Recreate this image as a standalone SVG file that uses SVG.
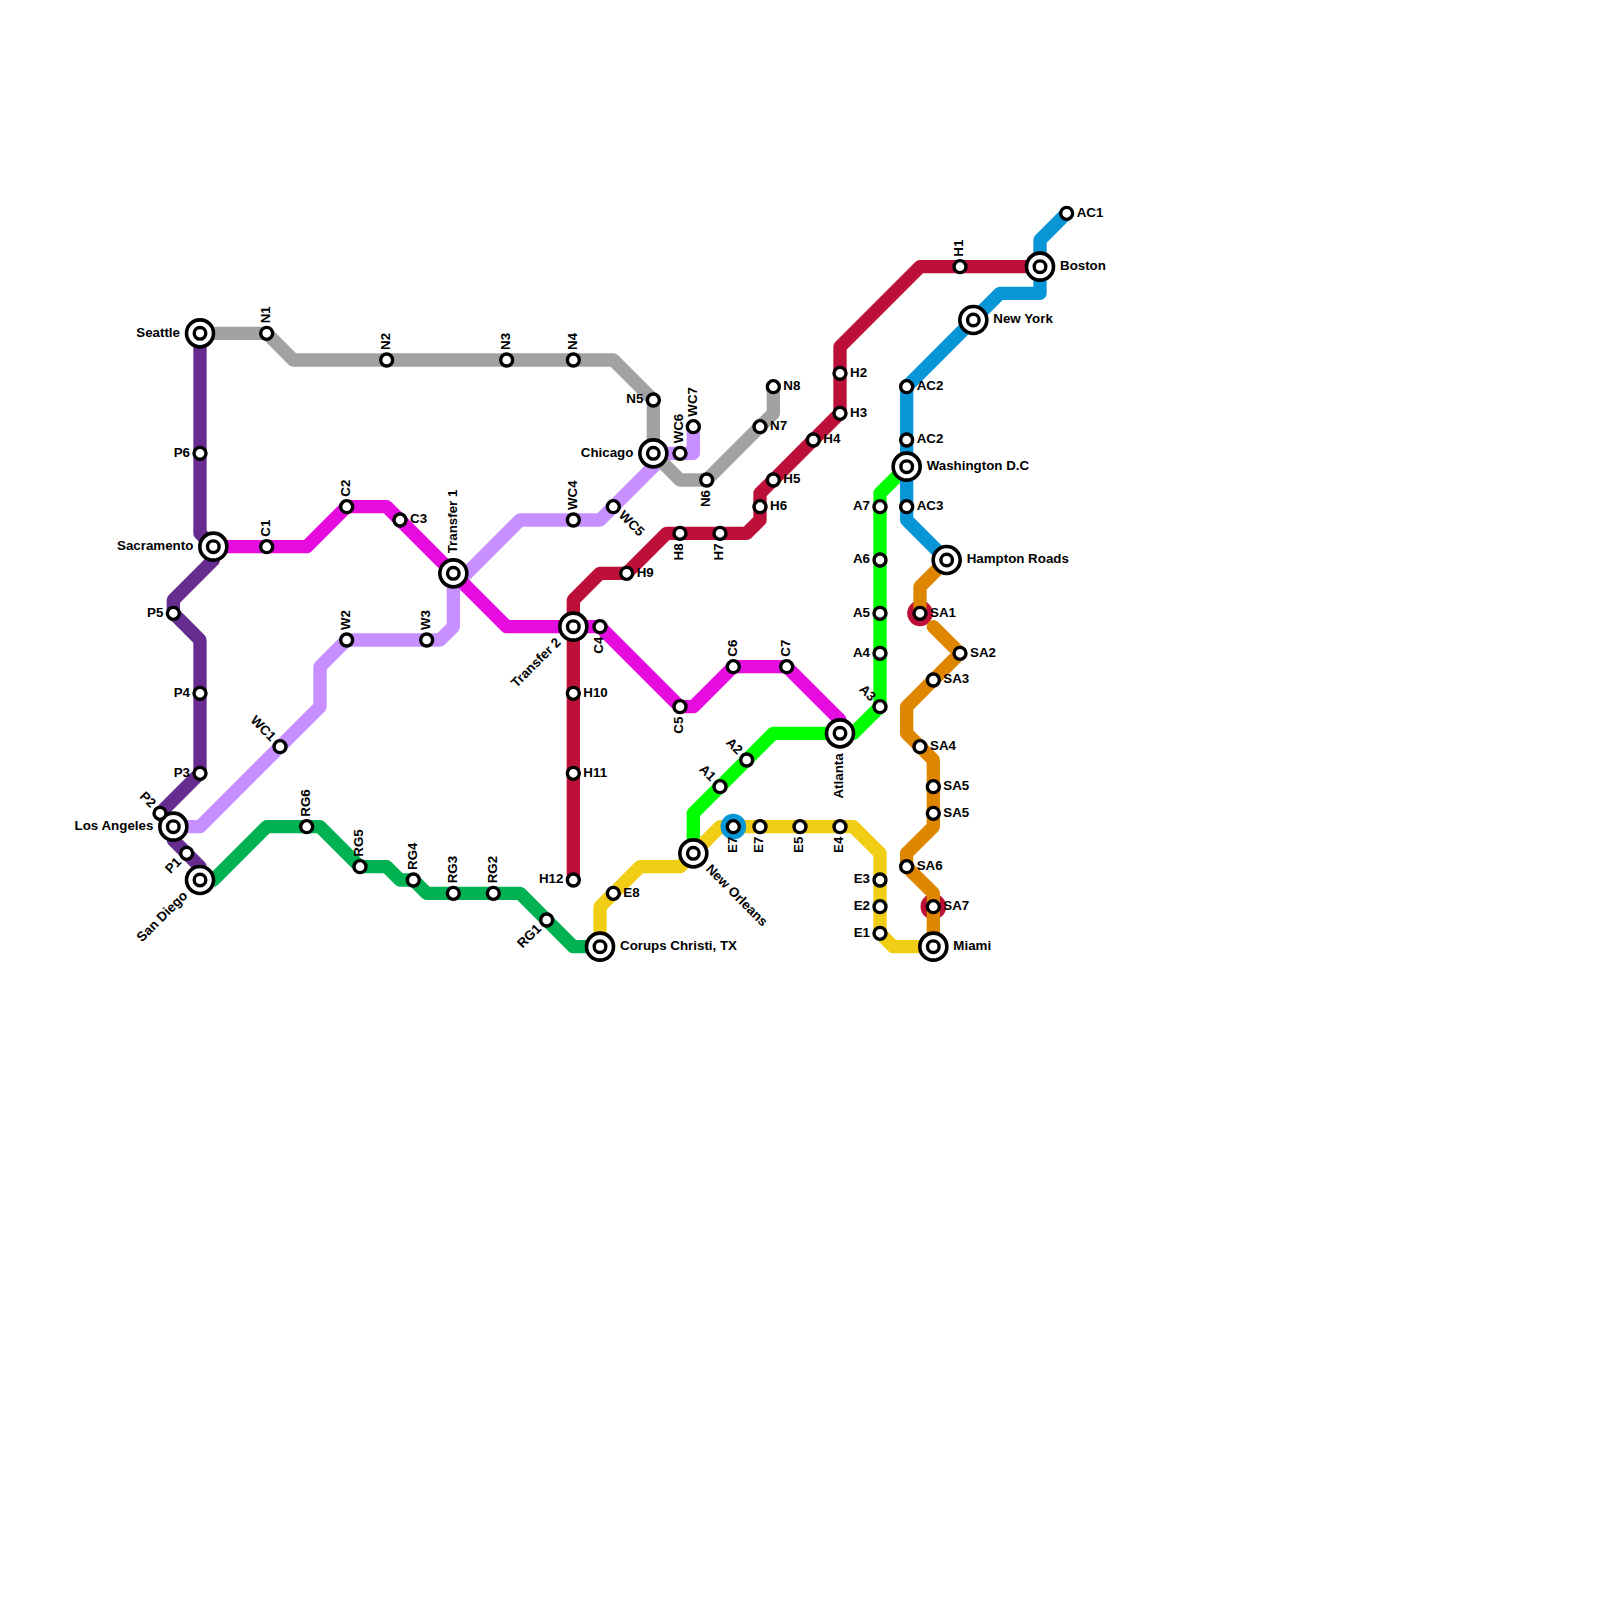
<svg xmlns="http://www.w3.org/2000/svg" width="1600" height="1600" viewBox="0 0 1600 1600">
<style>
.bg{fill:#fff}
#connectors polyline{fill:none;stroke-width:1;stroke-linejoin:round;stroke-linecap:round}
.gray{stroke:#a2a2a2}.purple{stroke:#662c90}.mag{stroke:#e60bde}.lp{stroke:#c78fff}.red{stroke:#bd1038}.green{stroke:#00b251}.lime{stroke:#0f0}.yel{stroke:#f0ce15}.blue{stroke:#0896d7}.org{stroke:#df8600}
.s,.a,.b{fill:#fff;stroke:#000}
.s{stroke-width:3.4}.a{stroke-width:3.6}.b{stroke-width:3.4}
text{font-family:"Liberation Sans",Arial,sans-serif;font-size:13.33px;font-weight:bold;fill:#000}
.e{text-anchor:end}
</style>
<rect class="bg" width="1600" height="1600"/>
<g id="connectors" transform="scale(13.33333)">
<polyline class="lp" points="13,62 15,62 24,53 24,50 26,48 33,48 34,47 34,44 39,39 45,39 50,34 52,34 52,32"/>
<polyline class="gray" points="15,25 20,25 22,27 46,27 49,30 49,34 51,36 53,36 58,31 58,29"/>
<polyline class="purple" points="15,25 15,40 16,41 16,42 13,45 13,46 15,48 15,58 12,61 13,62 13,63 15,65 15,66"/>
<polyline class="mag" points="16,41 23,41 26,38 29,38 38,47 45,47 51,53 52,53 55,50 59,50 63,54 63,55"/>
<circle cx="69" cy="46" r="0.96" fill="#bd1038"/>
<circle cx="70" cy="68" r="0.96" fill="#bd1038"/>
<polyline class="red" points="78,20 69,20 63,26 63,31 57,37 57,39 56,40 50,40 47,43 45,43 43,45 43,66"/>
<polyline class="green" points="15,66 16,66 20,62 24,62 27,65 29,65 30,66 31,66 32,67 39,67 43,71 45,71"/>
<polyline class="lime" points="52,64 52,61 58,55 64,55 66,53 66,37 68,35"/>
<polyline class="yel" points="45,71 45,68 48,65 51,65 54,62 64,62 66,64 66,70 67,71 70,71"/>
<circle cx="55" cy="62" r="0.96" fill="#0896d7"/>
<polyline class="blue" points="80,16 78,18 78,22 75,22 68,29 68,39 71,42"/>
<polyline class="org" points="71,42 69,44 69,46"/>
<polyline class="org" points="70,47 72,49 68,53 68,55 70,57 70,62 68,64 68,65 70,67 70,71"/>
</g>
<g id="stations">
<g id="seattle" transform="translate(200,333.33)"><circle class="a" r="13.5"/><circle class="b" r="5.8"/><text class="e" x="-20" y="3.3">Seattle</text></g>
<g id="sacramento" transform="translate(213.33,546.67)"><circle class="a" r="13.5"/><circle class="b" r="5.8"/><text class="e" x="-20" y="3.3">Sacramento</text></g>
<g id="los-angeles" transform="translate(173.33,826.67)"><circle class="a" r="13.5"/><circle class="b" r="5.8"/><text class="e" x="-20" y="3.3">Los Angeles</text></g>
<g id="san-diego" transform="translate(200,880)"><circle class="a" r="13.5"/><circle class="b" r="5.8"/><text class="e" transform="rotate(-45)" x="-20" y="3.3">San Diego</text></g>
<g id="transfer-1" transform="translate(453.33,573.33)"><circle class="a" r="13.5"/><circle class="b" r="5.8"/><text transform="rotate(-90)" x="20" y="3.3">Transfer 1</text></g>
<g id="transfer-2" transform="translate(573.33,626.67)"><circle class="a" r="13.5"/><circle class="b" r="5.8"/><text class="e" transform="rotate(-45)" x="-20" y="3.3">Transfer 2</text></g>
<g id="chicago" transform="translate(653.33,453.33)"><circle class="a" r="13.5"/><circle class="b" r="5.8"/><text class="e" x="-20" y="3.3">Chicago</text></g>
<g id="new-orleans" transform="translate(693.33,853.33)"><circle class="a" r="13.5"/><circle class="b" r="5.8"/><text transform="rotate(45)" x="20" y="3.3">New Orleans</text></g>
<g id="atlanta" transform="translate(840,733.33)"><circle class="a" r="13.5"/><circle class="b" r="5.8"/><text class="e" transform="rotate(-90)" x="-20" y="3.3">Atlanta</text></g>
<g id="corpus-christi" transform="translate(600,946.67)"><circle class="a" r="13.5"/><circle class="b" r="5.8"/><text x="20" y="3.3">Corups Christi, TX</text></g>
<g id="miami" transform="translate(933.33,946.67)"><circle class="a" r="13.5"/><circle class="b" r="5.8"/><text x="20" y="3.3">Miami</text></g>
<g id="hampton-roads" transform="translate(946.67,560)"><circle class="a" r="13.5"/><circle class="b" r="5.8"/><text x="20" y="3.3">Hampton Roads</text></g>
<g id="washington" transform="translate(906.67,466.67)"><circle class="a" r="13.5"/><circle class="b" r="5.8"/><text x="20" y="3.3">Washington D.C</text></g>
<g id="new-york" transform="translate(973.33,320)"><circle class="a" r="13.5"/><circle class="b" r="5.8"/><text x="20" y="3.3">New York</text></g>
<g id="boston" transform="translate(1040,266.67)"><circle class="a" r="13.5"/><circle class="b" r="5.8"/><text x="20" y="3.3">Boston</text></g>

<g id="n1" transform="translate(266.67,333.33)"><circle class="s" r="6"/><text transform="rotate(-90)" x="10" y="3.3">N1</text></g>
<g id="n2" transform="translate(386.67,360)"><circle class="s" r="6"/><text transform="rotate(-90)" x="10" y="3.3">N2</text></g>
<g id="n3" transform="translate(506.67,360)"><circle class="s" r="6"/><text transform="rotate(-90)" x="10" y="3.3">N3</text></g>
<g id="n4" transform="translate(573.33,360)"><circle class="s" r="6"/><text transform="rotate(-90)" x="10" y="3.3">N4</text></g>
<g id="n5" transform="translate(653.33,400)"><circle class="s" r="6"/><text class="e" x="-10" y="3.3">N5</text></g>
<g id="n6" transform="translate(706.67,480)"><circle class="s" r="6"/><text class="e" transform="rotate(-90)" x="-10" y="3.3">N6</text></g>
<g id="n7" transform="translate(760,426.67)"><circle class="s" r="6"/><text x="10" y="3.3">N7</text></g>
<g id="n8" transform="translate(773.33,386.67)"><circle class="s" r="6"/><text x="10" y="3.3">N8</text></g>

<g id="p1" transform="translate(186.67,853.33)"><circle class="s" r="6"/><text class="e" transform="rotate(-45)" x="-10" y="3.3">P1</text></g>
<g id="p2" transform="translate(160,813.33)"><circle class="s" r="6"/><text class="e" transform="rotate(45)" x="-10" y="3.3">P2</text></g>
<g id="p3" transform="translate(200,773.33)"><circle class="s" r="6"/><text class="e" x="-10" y="3.3">P3</text></g>
<g id="p4" transform="translate(200,693.33)"><circle class="s" r="6"/><text class="e" x="-10" y="3.3">P4</text></g>
<g id="p5" transform="translate(173.33,613.33)"><circle class="s" r="6"/><text class="e" x="-10" y="3.3">P5</text></g>
<g id="p6" transform="translate(200,453.33)"><circle class="s" r="6"/><text class="e" x="-10" y="3.3">P6</text></g>

<g id="c1" transform="translate(266.67,546.67)"><circle class="s" r="6"/><text transform="rotate(-90)" x="10" y="3.3">C1</text></g>
<g id="c2" transform="translate(346.67,506.67)"><circle class="s" r="6"/><text transform="rotate(-90)" x="10" y="3.3">C2</text></g>
<g id="c3" transform="translate(400,520)"><circle class="s" r="6"/><text x="10" y="3.3">C3</text></g>
<g id="c4" transform="translate(600,626.67)"><circle class="s" r="6"/><text class="e" transform="rotate(-90)" x="-10" y="3.3">C4</text></g>
<g id="c5" transform="translate(680,706.67)"><circle class="s" r="6"/><text class="e" transform="rotate(-90)" x="-10" y="3.3">C5</text></g>
<g id="c6" transform="translate(733.33,666.67)"><circle class="s" r="6"/><text transform="rotate(-90)" x="10" y="3.3">C6</text></g>
<g id="c7" transform="translate(786.67,666.67)"><circle class="s" r="6"/><text transform="rotate(-90)" x="10" y="3.3">C7</text></g>

<g id="wc1" transform="translate(280,746.67)"><circle class="s" r="6"/><text class="e" transform="rotate(45)" x="-10" y="3.3">WC1</text></g>
<g id="w2" transform="translate(346.67,640)"><circle class="s" r="6"/><text transform="rotate(-90)" x="10" y="3.3">W2</text></g>
<g id="w3" transform="translate(426.67,640)"><circle class="s" r="6"/><text transform="rotate(-90)" x="10" y="3.3">W3</text></g>
<g id="wc4" transform="translate(573.33,520)"><circle class="s" r="6"/><text transform="rotate(-90)" x="10" y="3.3">WC4</text></g>
<g id="wc5" transform="translate(613.33,506.67)"><circle class="s" r="6"/><text transform="rotate(45)" x="10" y="3.3">WC5</text></g>
<g id="wc6" transform="translate(680,453.33)"><circle class="s" r="6"/><text transform="rotate(-90)" x="10" y="3.3">WC6</text></g>
<g id="wc7" transform="translate(693.33,426.67)"><circle class="s" r="6"/><text transform="rotate(-90)" x="10" y="3.3">WC7</text></g>

<g id="h1" transform="translate(960,266.67)"><circle class="s" r="6"/><text transform="rotate(-90)" x="10" y="3.3">H1</text></g>
<g id="h2" transform="translate(840,373.33)"><circle class="s" r="6"/><text x="10" y="3.3">H2</text></g>
<g id="h3" transform="translate(840,413.33)"><circle class="s" r="6"/><text x="10" y="3.3">H3</text></g>
<g id="h4" transform="translate(813.33,440)"><circle class="s" r="6"/><text x="10" y="3.3">H4</text></g>
<g id="h5" transform="translate(773.33,480)"><circle class="s" r="6"/><text x="10" y="3.3">H5</text></g>
<g id="h6" transform="translate(760,506.67)"><circle class="s" r="6"/><text x="10" y="3.3">H6</text></g>
<g id="h7" transform="translate(720,533.33)"><circle class="s" r="6"/><text class="e" transform="rotate(-90)" x="-10" y="3.3">H7</text></g>
<g id="h8" transform="translate(680,533.33)"><circle class="s" r="6"/><text class="e" transform="rotate(-90)" x="-10" y="3.3">H8</text></g>
<g id="h9" transform="translate(626.67,573.33)"><circle class="s" r="6"/><text x="10" y="3.3">H9</text></g>
<g id="h10" transform="translate(573.33,693.33)"><circle class="s" r="6"/><text x="10" y="3.3">H10</text></g>
<g id="h11" transform="translate(573.33,773.33)"><circle class="s" r="6"/><text x="10" y="3.3">H11</text></g>
<g id="h12" transform="translate(573.33,880)"><circle class="s" r="6"/><text class="e" x="-10" y="3.3">H12</text></g>

<g id="rg1" transform="translate(546.67,920)"><circle class="s" r="6"/><text class="e" transform="rotate(-45)" x="-10" y="3.3">RG1</text></g>
<g id="rg2" transform="translate(493.33,893.33)"><circle class="s" r="6"/><text transform="rotate(-90)" x="10" y="3.3">RG2</text></g>
<g id="rg3" transform="translate(453.33,893.33)"><circle class="s" r="6"/><text transform="rotate(-90)" x="10" y="3.3">RG3</text></g>
<g id="rg4" transform="translate(413.33,880)"><circle class="s" r="6"/><text transform="rotate(-90)" x="10" y="3.3">RG4</text></g>
<g id="rg5" transform="translate(360,866.67)"><circle class="s" r="6"/><text transform="rotate(-90)" x="10" y="3.3">RG5</text></g>
<g id="rg6" transform="translate(306.67,826.67)"><circle class="s" r="6"/><text transform="rotate(-90)" x="10" y="3.3">RG6</text></g>

<g id="e1" transform="translate(880,933.33)"><circle class="s" r="6"/><text class="e" x="-10" y="3.3">E1</text></g>
<g id="e2" transform="translate(880,906.67)"><circle class="s" r="6"/><text class="e" x="-10" y="3.3">E2</text></g>
<g id="e3" transform="translate(880,880)"><circle class="s" r="6"/><text class="e" x="-10" y="3.3">E3</text></g>
<g id="e4" transform="translate(840,826.67)"><circle class="s" r="6"/><text class="e" transform="rotate(-90)" x="-10" y="3.3">E4</text></g>
<g id="e5" transform="translate(800,826.67)"><circle class="s" r="6"/><text class="e" transform="rotate(-90)" x="-10" y="3.3">E5</text></g>
<g id="e7b" transform="translate(760,826.67)"><circle class="s" r="6"/><text class="e" transform="rotate(-90)" x="-10" y="3.3">E7</text></g>
<g id="e7a" transform="translate(733.33,826.67)"><circle class="s" r="6"/><text class="e" transform="rotate(-90)" x="-10" y="3.3">E7</text></g>
<g id="e8" transform="translate(613.33,893.33)"><circle class="s" r="6"/><text x="10" y="3.3">E8</text></g>

<g id="a1" transform="translate(720,786.67)"><circle class="s" r="6"/><text class="e" transform="rotate(45)" x="-10" y="3.3">A1</text></g>
<g id="a2" transform="translate(746.67,760)"><circle class="s" r="6"/><text class="e" transform="rotate(45)" x="-10" y="3.3">A2</text></g>
<g id="a3" transform="translate(880,706.67)"><circle class="s" r="6"/><text class="e" transform="rotate(45)" x="-10" y="3.3">A3</text></g>
<g id="a4" transform="translate(880,653.33)"><circle class="s" r="6"/><text class="e" x="-10" y="3.3">A4</text></g>
<g id="a5" transform="translate(880,613.33)"><circle class="s" r="6"/><text class="e" x="-10" y="3.3">A5</text></g>
<g id="a6" transform="translate(880,560)"><circle class="s" r="6"/><text class="e" x="-10" y="3.3">A6</text></g>
<g id="a7" transform="translate(880,506.67)"><circle class="s" r="6"/><text class="e" x="-10" y="3.3">A7</text></g>

<g id="ac1" transform="translate(1066.67,213.33)"><circle class="s" r="6"/><text x="10" y="3.3">AC1</text></g>
<g id="ac2a" transform="translate(906.67,386.67)"><circle class="s" r="6"/><text x="10" y="3.3">AC2</text></g>
<g id="ac2b" transform="translate(906.67,440)"><circle class="s" r="6"/><text x="10" y="3.3">AC2</text></g>
<g id="ac3" transform="translate(906.67,506.67)"><circle class="s" r="6"/><text x="10" y="3.3">AC3</text></g>

<g id="sa1" transform="translate(920,613.33)"><circle class="s" r="6"/><text x="10" y="3.3">SA1</text></g>
<g id="sa2" transform="translate(960,653.33)"><circle class="s" r="6"/><text x="10" y="3.3">SA2</text></g>
<g id="sa3" transform="translate(933.33,680)"><circle class="s" r="6"/><text x="10" y="3.3">SA3</text></g>
<g id="sa4" transform="translate(920,746.67)"><circle class="s" r="6"/><text x="10" y="3.3">SA4</text></g>
<g id="sa5a" transform="translate(933.33,786.67)"><circle class="s" r="6"/><text x="10" y="3.3">SA5</text></g>
<g id="sa5b" transform="translate(933.33,813.33)"><circle class="s" r="6"/><text x="10" y="3.3">SA5</text></g>
<g id="sa6" transform="translate(906.67,866.67)"><circle class="s" r="6"/><text x="10" y="3.3">SA6</text></g>
<g id="sa7" transform="translate(933.33,906.67)"><circle class="s" r="6"/><text x="10" y="3.3">SA7</text></g>
</g>
</svg>
